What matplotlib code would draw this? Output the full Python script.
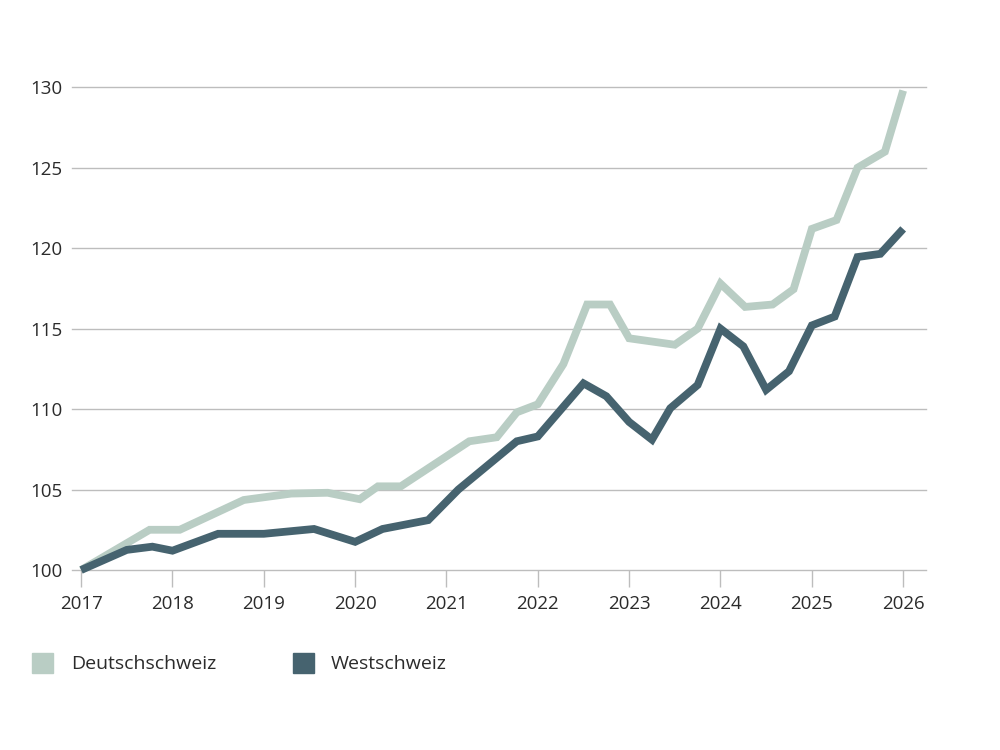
import matplotlib.pyplot as plt
from matplotlib.patches import Rectangle

plt.rcParams['font.family'] = ['Open Sans', 'DejaVu Sans']

# vertices of the two index lines (fractional year, index 2017 = 100)
deutsch_x = [2017.0, 2017.75, 2018.08, 2018.78, 2019.3, 2019.7, 2020.05, 2020.25, 2020.5,
             2021.25, 2021.55, 2021.77, 2022.0, 2022.28, 2022.54, 2022.79, 2023.0, 2023.5,
             2023.75, 2024.0, 2024.27, 2024.57, 2024.8, 2025.0, 2025.27, 2025.5, 2025.8, 2026.0]
deutsch_y = [100.0, 102.5, 102.5, 104.35, 104.75, 104.8, 104.4, 105.2, 105.2,
             108.0, 108.25, 109.8, 110.3, 112.8, 116.5, 116.5, 114.4, 114.0,
             115.0, 117.8, 116.35, 116.5, 117.45, 121.2, 121.75, 125.0, 126.0, 129.8]

west_x = [2017.0, 2017.5, 2017.78, 2018.0, 2018.5, 2019.0, 2019.55, 2020.0, 2020.3,
          2020.8, 2021.13, 2021.77, 2022.0, 2022.5, 2022.75, 2023.0, 2023.25, 2023.45,
          2023.75, 2024.0, 2024.25, 2024.5, 2024.75, 2025.0, 2025.25, 2025.5, 2025.75, 2026.0]
west_y = [100.0, 101.25, 101.45, 101.2, 102.25, 102.25, 102.55, 101.75, 102.55,
          103.1, 105.0, 108.0, 108.3, 111.6, 110.8, 109.2, 108.1, 110.05,
          111.5, 115.0, 113.9, 111.2, 112.35, 115.2, 115.75, 119.45, 119.65, 121.2]

years = list(range(2017, 2027))
yticks = [100, 105, 110, 115, 120, 125, 130]

col_de = '#b9cdc4'
col_we = '#46636f'
grid_col = '#bdbdbd'
txt_col = '#2b2b2b'

fig = plt.figure(figsize=(10, 7.5), dpi=100)
ax = fig.add_axes([0.072, 0.24, 0.854, 0.6436])

for y in yticks:
    ax.axhline(y, color=grid_col, lw=1.0, zorder=1, clip_on=False)

ax.plot(deutsch_x, deutsch_y, color=col_de, lw=5.6, solid_joinstyle='miter',
        solid_capstyle='butt', zorder=3, clip_on=False)
ax.plot(west_x, west_y, color=col_we, lw=5.6, solid_joinstyle='miter',
        solid_capstyle='butt', zorder=4, clip_on=False)

ax.set_xlim(2016.9, 2026.25)
ax.set_ylim(100, 130)
for s in ax.spines.values():
    s.set_visible(False)

ax.set_xticks(years)
ax.set_xticklabels([str(y) for y in years])
ax.set_yticks(yticks)
ax.set_yticklabels([str(y) for y in yticks])
ax.tick_params(axis='x', length=12, width=1, color=grid_col, pad=6,
               labelsize=13.5, labelcolor=txt_col)
ax.tick_params(axis='y', length=0, pad=7, labelsize=13.5, labelcolor=txt_col)

# legend
fig.patches.append(Rectangle((0.032, 1 - 673 / 750), 0.021, 20 / 750,
                             transform=fig.transFigure, color=col_de))
fig.text(0.071, 1 - 664 / 750, 'Deutschschweiz', fontsize=14, color=txt_col, va='center')
fig.patches.append(Rectangle((0.293, 1 - 673 / 750), 0.021, 20 / 750,
                             transform=fig.transFigure, color=col_we))
fig.text(0.331, 1 - 664 / 750, 'Westschweiz', fontsize=14, color=txt_col, va='center')

fig.savefig('out.png', dpi=100, facecolor='white')
